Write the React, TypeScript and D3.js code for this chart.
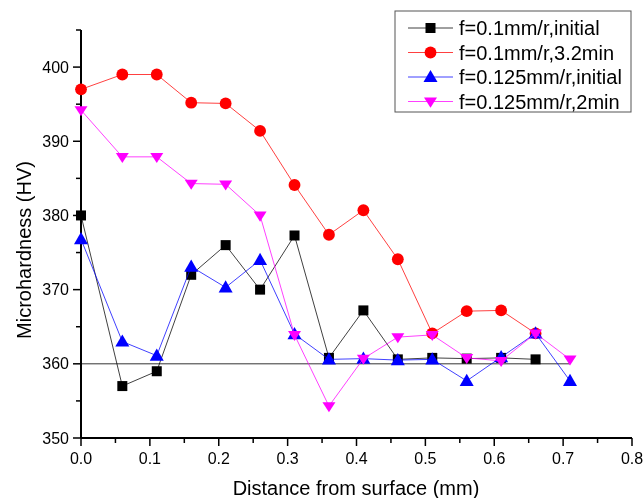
import React, { useEffect, useRef } from "react";
import * as d3 from "d3";

const distance = [0, 0.06, 0.11, 0.16, 0.21, 0.26, 0.31, 0.36, 0.41, 0.46, 0.51, 0.56, 0.61, 0.66, 0.71];

const initial01 = [380, 357, 359, 372, 376, 370, 377.3, 360.8, 367.2, 360.6, 360.8, 360.7, 360.8, 360.6];
const min32 = [397, 399, 399, 395.2, 395.1, 391.4, 384.1, 377.4, 380.7, 374.1, 364.1, 367.1, 367.2, 364.1];
const initial0125 = [376.8, 363, 361.1, 373.1, 370.3, 374, 364, 360.6, 360.7, 360.5, 360.6, 357.7, 360.9, 364.1, 357.7];
const min2 = [394.2, 387.9, 387.9, 384.3, 384.2, 380, 363.9, 354.3, 360.7, 363.6, 363.9, 360.8, 360.4, 364.1, 360.6];

const seriesNames = ["f=0.1mm/r,initial", "f=0.1mm/r,3.2min", "f=0.125mm/r,initial", "f=0.125mm/r,2min"];
const seriesValues = [initial01, min32, initial0125, min2];
const seriesColors = ["#000000", "#ff0000", "#0000ff", "#ff00ff"];
const seriesSymbols = [d3.symbolSquare, d3.symbolCircle, d3.symbolTriangle, "down"];

const xTicks = [0, 0.1, 0.2, 0.3, 0.4, 0.5, 0.6, 0.7, 0.8];
const yTicks = [350, 360, 370, 380, 390, 400];
const baseline = 360;

const FONT = "Arial, 'Liberation Sans', sans-serif";

function drawMarker(g, symbol, color, cx, cy) {
  if (symbol === "down") {
    const s = 6.5;
    g.append("path")
      .attr("d", `M${cx - s},${cy - s * 0.6}L${cx + s},${cy - s * 0.6}L${cx},${cy + s * 0.95}Z`)
      .attr("fill", color);
    return;
  }
  let size = 100;
  let dy = 0;
  if (symbol === d3.symbolCircle) size = 110;
  if (symbol === d3.symbolTriangle) {
    size = 85;
    dy = 1;
  }
  g.append("path")
    .attr("d", d3.symbol().type(symbol).size(size)())
    .attr("transform", `translate(${cx},${cy + dy})`)
    .attr("fill", color);
}

export default function App() {
  const ref = useRef(null);

  useEffect(() => {
    const el = ref.current;
    d3.select(el).selectAll("*").remove();

    const width = 643;
    const height = 498;
    const margin = { top: 30, right: 11, bottom: 60, left: 81 };

    const svg = d3
      .select(el)
      .append("svg")
      .attr("width", width)
      .attr("height", height)
      .style("display", "block")
      .style("font-family", FONT);

    const x = d3.scaleLinear().domain([0, 0.8]).range([margin.left, width - margin.right]);
    const y = d3.scaleLinear().domain([350, 405]).range([height - margin.bottom, margin.top]);

    // reference line at 360
    svg
      .append("line")
      .attr("x1", x(0))
      .attr("x2", x(0.71))
      .attr("y1", y(baseline))
      .attr("y2", y(baseline))
      .attr("stroke", "#333")
      .attr("stroke-width", 1);

    // x axis
    const xAxis = svg.append("g").attr("transform", `translate(0,${y(350)})`);
    xAxis
      .append("line")
      .attr("x1", x(0))
      .attr("x2", x(0.8))
      .attr("stroke", "#000")
      .attr("stroke-width", 2);
    d3.range(0, 17).forEach((i) => {
      const v = i * 0.05;
      const major = i % 2 === 0;
      xAxis
        .append("line")
        .attr("x1", x(v))
        .attr("x2", x(v))
        .attr("y1", 0)
        .attr("y2", major ? 8 : 5)
        .attr("stroke", "#000")
        .attr("stroke-width", 1.5);
    });
    xAxis
      .selectAll("text.tick")
      .data(xTicks)
      .enter()
      .append("text")
      .attr("x", (d) => x(d))
      .attr("y", 26)
      .attr("text-anchor", "middle")
      .attr("font-size", 16)
      .text((d) => d3.format(".1f")(d));

    // y axis
    const yAxis = svg.append("g").attr("transform", `translate(${x(0)},0)`);
    yAxis
      .append("line")
      .attr("y1", y(350))
      .attr("y2", y(405))
      .attr("stroke", "#000")
      .attr("stroke-width", 2);
    d3.range(0, 12).forEach((i) => {
      const v = 350 + i * 5;
      const major = i % 2 === 0;
      yAxis
        .append("line")
        .attr("x1", 0)
        .attr("x2", major ? -8 : -5)
        .attr("y1", y(v))
        .attr("y2", y(v))
        .attr("stroke", "#000")
        .attr("stroke-width", 1.5);
    });
    yAxis
      .selectAll("text.tick")
      .data(yTicks)
      .enter()
      .append("text")
      .attr("x", -12)
      .attr("y", (d) => y(d))
      .attr("dy", "0.35em")
      .attr("text-anchor", "end")
      .attr("font-size", 16)
      .text((d) => d);

    // axis titles
    svg
      .append("text")
      .attr("x", 356)
      .attr("y", 495)
      .attr("text-anchor", "middle")
      .attr("font-size", 20)
      .text("Distance from surface (mm)");
    svg
      .append("text")
      .attr("transform", "translate(31,250) rotate(-90)")
      .attr("text-anchor", "middle")
      .attr("font-size", 20)
      .text("Microhardness (HV)");

    // series
    const line = d3
      .line()
      .x((d) => x(d[0]))
      .y((d) => y(d[1]));

    seriesValues.forEach((vals, si) => {
      const pts = vals.map((v, i) => [distance[i], v]);
      svg
        .append("path")
        .attr("d", line(pts))
        .attr("fill", "none")
        .attr("stroke", seriesColors[si])
        .attr("stroke-opacity", 0.75)
        .attr("stroke-width", 1);
      const g = svg.append("g");
      pts.forEach((p) => drawMarker(g, seriesSymbols[si], seriesColors[si], x(p[0]), y(p[1])));
    });

    // legend
    const legend = svg.append("g").attr("transform", "translate(395,11)");
    legend
      .append("rect")
      .attr("width", 236)
      .attr("height", 101)
      .attr("fill", "#fff")
      .attr("stroke", "#555")
      .attr("stroke-width", 1);
    seriesNames.forEach((name, i) => {
      const ly = 17 + i * 24.5;
      legend
        .append("line")
        .attr("x1", 13)
        .attr("x2", 58)
        .attr("y1", ly)
        .attr("y2", ly)
        .attr("stroke", seriesColors[i])
        .attr("stroke-opacity", 0.75);
      drawMarker(legend, seriesSymbols[i], seriesColors[i], 35.5, ly);
      legend
        .append("text")
        .attr("x", 64)
        .attr("y", ly)
        .attr("dy", "0.35em")
        .attr("font-size", 20)
        .text(name);
    });
  }, []);

  return <div ref={ref} style={{ position: "fixed", top: 0, left: 0 }}></div>;
}
